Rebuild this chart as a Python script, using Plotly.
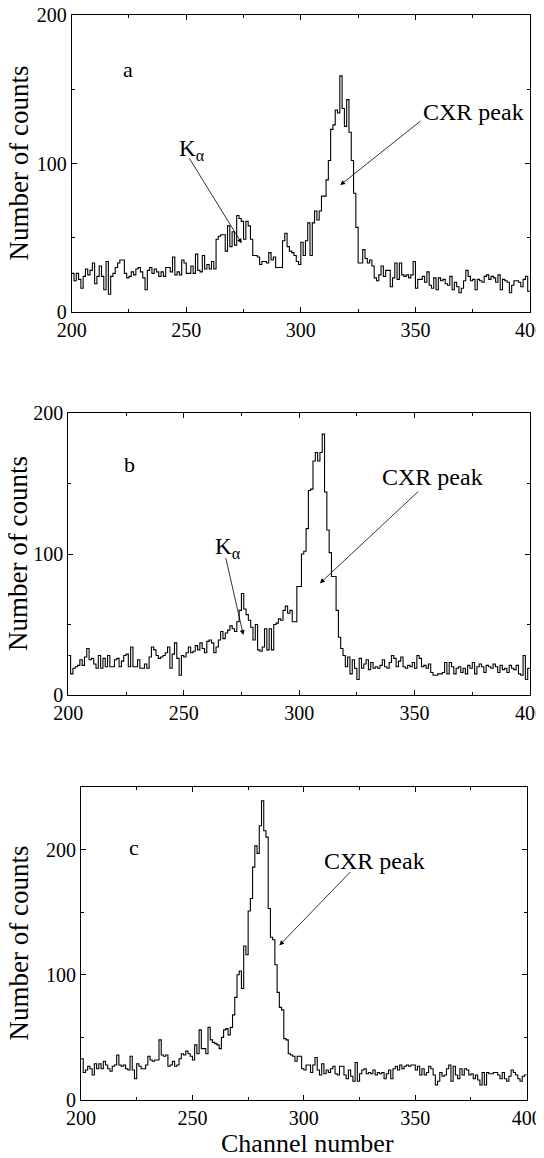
import plotly.graph_objects as go

channels = list(range(200, 400))

counts_a = [
    26, 21, 26, 22, 16, 24, 29, 25, 28, 33,
    19, 24, 31, 24, 15, 34, 12, 24, 26, 30,
    33, 35, 35, 26, 23, 24, 27, 25, 29, 30,
    27, 23, 15, 28, 30, 26, 29, 27, 24, 27,
    24, 30, 30, 27, 37, 25, 27, 25, 35, 33,
    26, 26, 31, 26, 39, 28, 27, 38, 29, 32,
    29, 34, 29, 49, 51, 52, 52, 41, 58, 44,
    54, 45, 65, 63, 61, 49, 61, 58, 49, 38,
    38, 37, 32, 34, 34, 33, 40, 35, 37, 30,
    30, 30, 48, 53, 44, 41, 40, 38, 34, 32,
    47, 38, 48, 60, 38, 60, 68, 62, 68, 78,
    78, 89, 102, 123, 126, 136, 134, 159, 137, 125,
    143, 121, 102, 80, 57, 33, 33, 42, 36, 33,
    35, 31, 23, 21, 25, 31, 24, 28, 28, 17,
    23, 33, 22, 33, 25, 24, 25, 23, 25, 34,
    16, 22, 22, 24, 20, 27, 18, 16, 23, 15,
    23, 21, 22, 19, 18, 24, 15, 20, 17, 13,
    16, 21, 28, 24, 21, 22, 15, 22, 21, 20,
    24, 25, 22, 24, 23, 20, 25, 15, 22, 21,
    20, 13, 18, 21, 21, 20, 17, 22, 24, 14,
]

counts_b = [
    28, 15, 19, 20, 21, 25, 21, 27, 33, 25,
    26, 22, 19, 28, 19, 26, 20, 28, 20, 20,
    25, 26, 20, 24, 28, 29, 20, 34, 20, 20,
    25, 19, 19, 22, 19, 27, 34, 32, 28, 26,
    27, 28, 30, 34, 19, 29, 37, 26, 14, 28,
    27, 30, 34, 30, 31, 35, 32, 37, 33, 30,
    38, 39, 37, 30, 34, 39, 45, 40, 44, 46,
    49, 47, 45, 52, 60, 72, 61, 57, 53, 48,
    39, 50, 32, 31, 34, 47, 32, 47, 32, 50,
    51, 54, 53, 60, 63, 58, 60, 52, 52, 77,
    77, 100, 102, 118, 145, 146, 166, 172, 166, 172,
    185, 144, 117, 101, 84, 84, 60, 41, 33, 28,
    20, 27, 15, 25, 19, 11, 26, 19, 22, 25,
    18, 23, 19, 20, 19, 21, 25, 20, 19, 23,
    28, 26, 20, 24, 27, 20, 19, 21, 20, 23,
    19, 28, 26, 20, 21, 19, 22, 16, 14, 14,
    15, 15, 16, 23, 15, 23, 20, 15, 19, 20,
    16, 19, 15, 21, 19, 23, 15, 20, 22, 20,
    16, 21, 20, 19, 22, 20, 16, 21, 18, 19,
    16, 21, 19, 18, 21, 15, 14, 28, 11, 19,
]

counts_c = [
    33, 22, 24, 27, 25, 20, 29, 25, 29, 25,
    31, 28, 25, 23, 27, 28, 36, 28, 27, 28,
    25, 24, 35, 24, 17, 29, 27, 25, 25, 28,
    35, 32, 31, 32, 32, 48, 36, 35, 36, 27,
    28, 31, 27, 28, 33, 37, 36, 39, 37, 35,
    32, 44, 37, 56, 41, 41, 37, 58, 48, 46,
    45, 44, 41, 50, 56, 57, 52, 58, 68, 82,
    100, 103, 89, 123, 116, 151, 161, 186, 203, 197,
    219, 239, 215, 210, 153, 130, 128, 108, 86, 74,
    72, 49, 48, 37, 36, 35, 31, 35, 35, 25,
    24, 28, 28, 22, 28, 34, 24, 20, 29, 21,
    24, 22, 25, 27, 21, 20, 27, 27, 20, 17,
    24, 19, 15, 30, 15, 21, 24, 25, 21, 22,
    21, 24, 20, 22, 21, 22, 17, 21, 24, 17,
    25, 27, 24, 28, 25, 27, 28, 27, 28, 28,
    24, 27, 20, 25, 20, 22, 27, 25, 20, 12,
    15, 22, 19, 20, 25, 28, 15, 27, 20, 17,
    25, 20, 25, 24, 20, 21, 17, 20, 16, 12,
    22, 12, 22, 21, 21, 22, 22, 20, 17, 22,
    17, 15, 19, 24, 22, 20, 17, 15, 19, 20,
]

panel_labels = ["a", "b", "c"]
x_ticks = [200, 250, 300, 350, 400]
y_ticks = [0, 100, 200]
y_ranges = [[0, 200], [0, 200], [0, 250]]
x_title = "Channel number"
y_title = "Number of counts"
peak_text = "CXR peak"
ka_text = "K<sub>α</sub>"

# the page body has an 8 px margin, so the figure is drawn 8 px smaller and
# every page-pixel position below is shifted by that offset
OFF = 8
W, H = 544 - OFF, 1158 - OFF
FONT = "Liberation Serif"

# page-pixel boxes of the three plot areas (left, right, top, bottom)
boxes = [(71.7, 530, 15, 312), (68.3, 530, 413, 695), (81, 526.7, 787, 1100)]


def px(x):
    return (x - OFF) / W


def py(y):
    return 1 - (y - OFF) / H


fig = go.Figure()
all_counts = [counts_a, counts_b, counts_c]
for i, cnt in enumerate(all_counts):
    sx = "" if i == 0 else str(i + 1)
    xs = channels + [channels[-1] + 1]
    ys = cnt + [cnt[-1]]
    fig.add_trace(go.Scatter(x=xs, y=ys, mode="lines", line=dict(color="black", width=1.1, shape="hv"),
                             xaxis="x" + sx, yaxis="y" + sx, showlegend=False, hoverinfo="skip"))

axis_common = dict(showline=True, linecolor="black", linewidth=1, mirror="allticks", ticks="inside",
                   tickcolor="black", ticklen=5, showgrid=False, zeroline=False, automargin=False,
                   ticklabeloverflow="allow",
                   tickfont=dict(family=FONT, size=20, color="black"))

layout = dict(template="none", width=W, height=H, margin=dict(l=0, r=0, t=0, b=0, pad=0),
              paper_bgcolor="white", plot_bgcolor="white", showlegend=False)
for i, (l, r, t, b) in enumerate(boxes):
    sx = "" if i == 0 else str(i + 1)
    layout["xaxis" + sx] = dict(axis_common, domain=[px(l), px(r)], range=[200, 400], tickvals=x_ticks,
                                minor=dict(ticks="inside", ticklen=3, dtick=25, tick0=200, tickcolor="black",
                                           showgrid=False),
                                anchor="y" + sx)
    layout["yaxis" + sx] = dict(axis_common, domain=[py(b), py(t)], range=y_ranges[i], tickvals=y_ticks,
                                minor=dict(ticks="inside", ticklen=3, dtick=50, tick0=0, tickcolor="black",
                                           showgrid=False),
                                anchor="x" + sx)
fig.update_layout(**layout)

ann = []
# panel letters
letter_pos = [(224.6, 163), (226.7, 163.8), (224, 202)]
for i, (lx, ly) in enumerate(letter_pos):
    sx = "" if i == 0 else str(i + 1)
    ann.append(dict(x=lx, y=ly, xref="x" + sx, yref="y" + sx, text=panel_labels[i], showarrow=False,
                    xanchor="center", yanchor="middle",
                    font=dict(family=FONT, size=22, color="black")))
# CXR peak texts and arrows
peak_txt = [(375.2, 134.7), (357.7, 154.6), (331.5, 191)]
peak_arrow = [((352.8, 129.3), (317.2, 85.5)), ((352.3, 145.4), (309, 79.2)), ((321.5, 183.3), (289, 123.5))]
for i in range(3):
    sx = "" if i == 0 else str(i + 1)
    ann.append(dict(x=peak_txt[i][0], y=peak_txt[i][1], xref="x" + sx, yref="y" + sx, text=peak_text,
                    showarrow=False, xanchor="center", yanchor="middle",
                    font=dict(family=FONT, size=24, color="black")))
    (tx, ty), (hx, hy) = peak_arrow[i]
    ann.append(dict(x=hx, y=hy, ax=tx, ay=ty, xref="x" + sx, yref="y" + sx, axref="x" + sx, ayref="y" + sx,
                    text="", showarrow=True, arrowhead=2, arrowsize=1.2, arrowwidth=0.8, arrowcolor="black"))
# K alpha
ka_txt = [(252.6, 109), (269.1, 104.3)]
ka_arrow = [((250.9, 104.6), (274.2, 46.3)), ((268.1, 98.1), (275.8, 42.6))]
for i in range(2):
    sx = "" if i == 0 else str(i + 1)
    ann.append(dict(x=ka_txt[i][0], y=ka_txt[i][1], xref="x" + sx, yref="y" + sx, text=ka_text,
                    showarrow=False, xanchor="center", yanchor="middle",
                    font=dict(family=FONT, size=23, color="black")))
    (tx, ty), (hx, hy) = ka_arrow[i]
    ann.append(dict(x=hx, y=hy, ax=tx, ay=ty, xref="x" + sx, yref="y" + sx, axref="x" + sx, ayref="y" + sx,
                    text="", showarrow=True, arrowhead=2, arrowsize=1.2, arrowwidth=0.8, arrowcolor="black"))
# axis titles
for (l, r, t, b) in boxes:
    ann.append(dict(x=px(18), y=py((t + b) / 2), xref="paper", yref="paper", text=y_title, textangle=-90,
                    showarrow=False, xanchor="center", yanchor="middle",
                    font=dict(family=FONT, size=27, color="black")))
ann.append(dict(x=px(307), y=py(1143), xref="paper", yref="paper", text=x_title, showarrow=False,
                xanchor="center", yanchor="middle",
                font=dict(family=FONT, size=26, color="black")))
fig.update_layout(annotations=ann)

fig.write_html("out.html")
